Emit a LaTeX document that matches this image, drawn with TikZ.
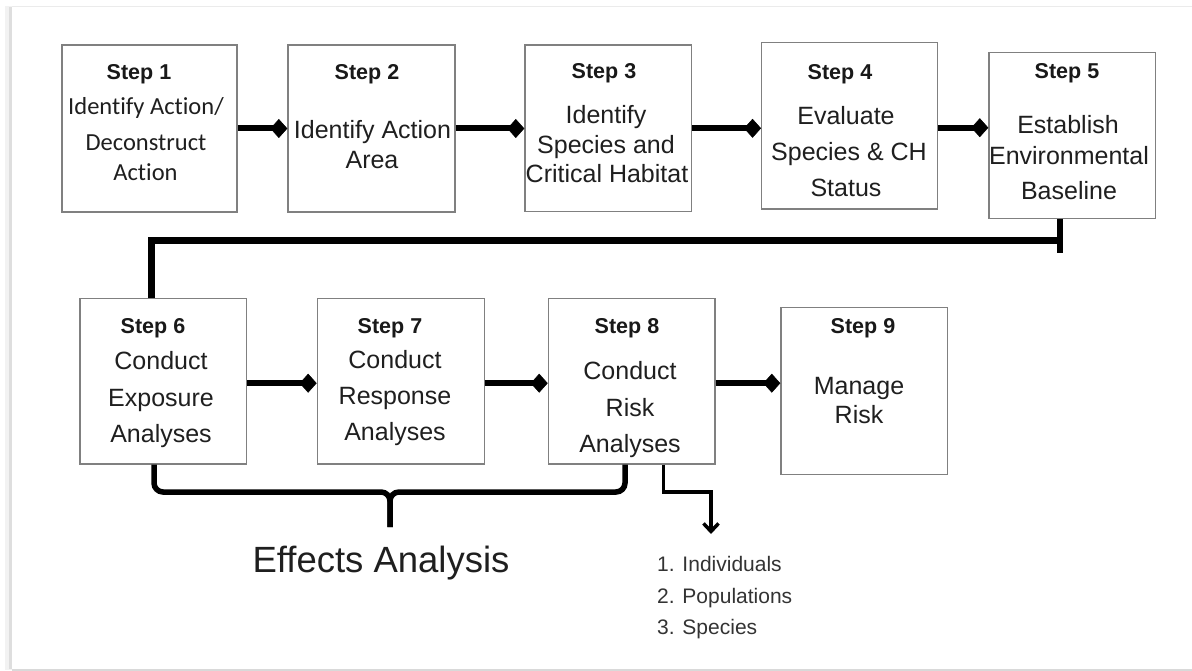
\documentclass[tikz,border=0pt]{standalone}
\usepackage{fontspec}
\setmainfont{Liberation Sans}
\newfontfamily\carlito[Ligatures=NoCommon]{Carlito}
\usetikzlibrary{arrows.meta}
\begin{document}
\begin{tikzpicture}[x=1pt,y=-1pt,
  box/.style={draw=black!50,line width=1.3pt,fill=white,inner sep=0pt},
  stp/.style={font=\fontsize{21.5}{25}\selectfont\bfseries,anchor=base,inner sep=0pt,text=black!90},
  txt/.style={font=\fontsize{25}{30}\selectfont,anchor=base,inner sep=0pt,text=black!88},
  ctxt/.style={font=\carlito\fontsize{24.5}{30}\selectfont,anchor=base,inner sep=0pt,text=black!88},
  lst/.style={font=\fontsize{21}{25}\selectfont,anchor=base west,inner sep=0pt,text=black!80},
  link/.style={line width=6pt,-{Turned Square[length=17pt,width=19pt,line width=0.5pt]}},
  bar/.style={line width=6.5pt},
  brace/.style={line width=5.5pt,rounded corners=9pt},
  riskarrow/.style={line width=3.5pt,-{Straight Barb[length=8pt,width=15pt]}}
]
\useasboundingbox (0,0) rectangle (1192,671);
\fill[white] (0,0) rectangle (1192,671);
% faint page frame
\fill[black!5] (5,6) rectangle (12,670);
\fill[black!13] (9,7) rectangle (12,669);
\draw[black!8,line width=1pt] (12,7) -- (1192,7);
\draw[black!15,line width=2pt] (12,669.5) -- (1192,669.5);

% boxes
\node[box,minimum width=175pt,minimum height=167pt] (b1) at (149.5,128.5) {};
\node[box,minimum width=167pt,minimum height=167pt] (b2) at (371.5,128.5) {};
\node[box,minimum width=166.7pt,minimum height=166.7pt] (b3) at (608.3,128.3) {};
\node[box,minimum width=176pt,minimum height=166.7pt] (b4) at (849.7,125.7) {};
\node[box,minimum width=166.7pt,minimum height=166pt] (b5) at (1072.3,135.3) {};
\node[box,minimum width=166.7pt,minimum height=165.7pt] (b6) at (163.3,381.2) {};
\node[box,minimum width=167pt,minimum height=165.7pt] (b7) at (400.8,381.2) {};
\node[box,minimum width=166.7pt,minimum height=165.7pt] (b8) at (631.7,381.2) {};
\node[box,minimum width=166.7pt,minimum height=167pt] (b9) at (864.3,390.8) {};

% box texts
\node[stp] (s1) at (139,80) {Step 1};
\node[ctxt] (t1a) at (146,115) {Identify Action/};
\node[ctxt] (t1b) at (146,151) {Deconstruct};
\node[ctxt] (t1c) at (145.5,181) {Action};

\node[stp] (s2) at (367,80) {Step 2};
\node[txt] (t2a) at (372.5,138.5) {Identify Action};
\node[txt] (t2b) at (372,168.5) {Area};

\node[stp] (s3) at (604,79) {Step 3};
\node[txt] (t3a) at (606,123.5) {Identify};
\node[txt] (t3b) at (606,153.5) {Species and};
\node[txt] (t3c) at (607,182.5) {Critical Habitat};

\node[stp] (s4) at (840,79.5) {Step 4};
\node[txt] (t4a) at (846,124.5) {Evaluate};
\node[txt] (t4b) at (849,161) {Species \& CH};
\node[txt] (t4c) at (846,196.5) {Status};

\node[stp] (s5) at (1067,79) {Step 5};
\node[txt] (t5a) at (1068,134) {Establish};
\node[txt] (t5b) at (1069,165) {Environmental};
\node[txt] (t5c) at (1069,200) {Baseline};

\node[stp] (s6) at (153,334) {Step 6};
\node[txt] (t6a) at (161,369.5) {Conduct};
\node[txt] (t6b) at (161,406) {Exposure};
\node[txt] (t6c) at (161,442.5) {Analyses};

\node[stp] (s7) at (390,334) {Step 7};
\node[txt] (t7a) at (395,368) {Conduct};
\node[txt] (t7b) at (395,404.5) {Response};
\node[txt] (t7c) at (395,440) {Analyses};

\node[stp] (s8) at (627,334) {Step 8};
\node[txt] (t8a) at (630,379) {Conduct};
\node[txt] (t8b) at (630,416) {Risk};
\node[txt] (t8c) at (630,452.5) {Analyses};

\node[stp] (s9) at (863,334) {Step 9};
\node[txt] (t9a) at (859,394.5) {Manage};
\node[txt] (t9b) at (859,423.5) {Risk};

% row 1 connectors
\draw[link] (b1.east) -- (b1.east -| b2.west);
\draw[link] (b2.east) -- (b2.east -| b3.west);
\draw[link] (b3.east) -- (b3.east -| b4.west);
\draw[link] ([yshift=-2pt]b4.east) -- ([yshift=-2pt]b4.east -| b5.west);

% step 5 -> step 6
\coordinate (t5end) at (1060,253);
\coordinate (turn) at (1060,240.5);
\draw[bar] ([xshift=-12.3pt]b5.south) -- (t5end);
\draw[bar] (turn) -| ([xshift=-11.6pt]b6.north);

% row 2 connectors
\draw[link] ([yshift=-2pt]b6.east) -- ([yshift=-2pt]b6.east -| b7.west);
\draw[link] ([yshift=-2pt]b7.east) -- ([yshift=-2pt]b7.east -| b8.west);
\draw[link] ([yshift=-2pt]b8.east) -- ([yshift=-2pt]b8.east -| b9.west);

% brace
\coordinate (bmid) at (390,492);
\coordinate (btip) at (390,527);
\draw[brace] ([xshift=-9.3pt]b6.south) |- (bmid) -- (btip);
\draw[brace] ([xshift=-6.7pt]b8.south) |- (bmid) -- (btip);
\node[font=\fontsize{36.5}{40}\selectfont,text=black!88,inner sep=0pt] (eff) at (381,563) {Effects Analysis};

% risk arrow
\coordinate (rkc) at (711,492);
\coordinate (rk) at (711,534);
\draw[riskarrow] ([xshift=31.6pt]b8.south) |- (rkc) -- (rk);

\node[lst] (l1) at (657,571.5) {1. Individuals};
\node[lst] (l2) at (657,603) {2. Populations};
\node[lst] (l3) at (657,634.5) {3. Species};
\end{tikzpicture}
\end{document}
